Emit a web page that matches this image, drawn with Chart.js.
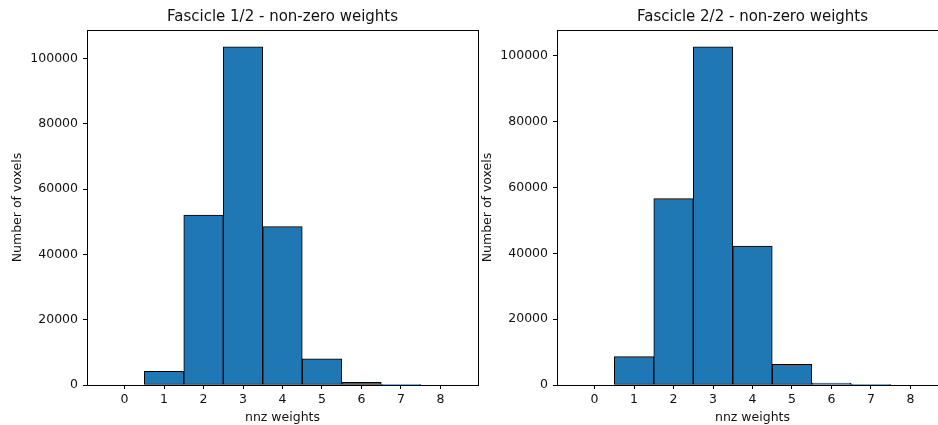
<!DOCTYPE html>
<html>
<head>
<meta charset="utf-8">
<script src="https://cdn.jsdelivr.net/npm/chart.js@4/dist/chart.umd.min.js"></script>
<style>
  html, body { margin: 0; padding: 0; background: #fff; }
  #wrap { position: relative; width: 938px; height: 425px; overflow: hidden; }
  canvas { position: absolute; top: 0; }
  #c1 { left: 0; }
  #c2 { left: 470px; }
</style>
</head>
<body>
<div id="wrap">
  <canvas id="c1" width="480" height="425"></canvas>
  <canvas id="c2" width="480" height="425"></canvas>
</div>
<script>
// number of non-zero weights per voxel (bin centres)
const nnzBins = [0, 1, 2, 3, 4, 5, 6, 7, 8];
const fascicle1Counts = [0, 4200, 52000, 103500, 48500, 8000, 850, 30, 0];
const fascicle2Counts = [0, 8600, 56600, 102700, 42200, 6300, 550, 20, 0];
const xTickLabels = [0, 1, 2, 3, 4, 5, 6, 7, 8];
const yTickLabels = [0, 20000, 40000, 60000, 80000, 100000];
const titles = ['Fascicle 1/2 - non-zero weights', 'Fascicle 2/2 - non-zero weights'];

Chart.defaults.font.family = 'DejaVu Sans';
Chart.defaults.color = '#111';

// box around the axes, like the four spines
const frame = {
    id: 'frame',
    afterDraw(chart) {
        const a = chart.chartArea;
        const ctx = chart.ctx;
        ctx.save();
        ctx.strokeStyle = '#000';
        ctx.lineWidth = 1;
        ctx.strokeRect(Math.round(a.left) + 0.5, Math.round(a.top) + 0.5,
            Math.round(a.right - a.left), Math.round(a.bottom - a.top));
        ctx.restore();
    }
};

function drawHist(id, title, counts) {
    const ymax = Math.max(...counts) * 1.05;
    const ctx = document.getElementById(id).getContext('2d');
    return new Chart(ctx, {
        type: 'bar',
        data: {
            datasets: [{
                data: nnzBins.map((b, i) => ({x: b, y: counts[i]})),
                backgroundColor: '#1f77b4',
                borderColor: '#000',
                borderWidth: 1,
                borderSkipped: false,
                barPercentage: 1,
                categoryPercentage: 1
            }]
        },
        options: {
            responsive: false,
            animation: false,
            layout: { padding: { left: 0, right: 2, top: 0, bottom: 0 } },
            plugins: {
                legend: { display: false },
                tooltip: { enabled: false },
                title: {
                    display: true,
                    text: title,
                    fullSize: false,
                    font: { size: 15, weight: 'normal' },
                    padding: { top: 8, bottom: 4 }
                }
            },
            scales: {
                x: {
                    type: 'linear',
                    offset: false,
                    min: -0.95,
                    max: 8.95,
                    afterBuildTicks: (scale) => { scale.ticks = xTickLabels.map(v => ({value: v})); },
                    afterFit: (scale) => { scale.height = 40; },
                    grid: { offset: false, drawOnChartArea: false, drawTicks: true, tickLength: 4, color: '#000' },
                    border: { display: false },
                    ticks: { font: { size: 12.5 }, padding: 3, maxRotation: 0 },
                    title: { display: true, text: 'nnz weights', font: { size: 12.5 }, padding: { top: 0, bottom: 0 } }
                },
                y: {
                    min: 0,
                    max: ymax,
                    afterBuildTicks: (scale) => { scale.ticks = yTickLabels.map(v => ({value: v})); },
                    afterFit: (scale) => { scale.width = 87; },
                    grid: { drawOnChartArea: false, drawTicks: true, tickLength: 4, color: '#000' },
                    border: { display: false },
                    ticks: { font: { size: 12.5 }, padding: 5, callback: (v) => String(v) },
                    title: { display: true, text: 'Number of voxels', font: { size: 12.5 }, padding: { top: 10, bottom: 0 } }
                }
            }
        },
        plugins: [frame]
    });
}

drawHist('c1', titles[0], fascicle1Counts);
drawHist('c2', titles[1], fascicle2Counts);
</script>
</body>
</html>
